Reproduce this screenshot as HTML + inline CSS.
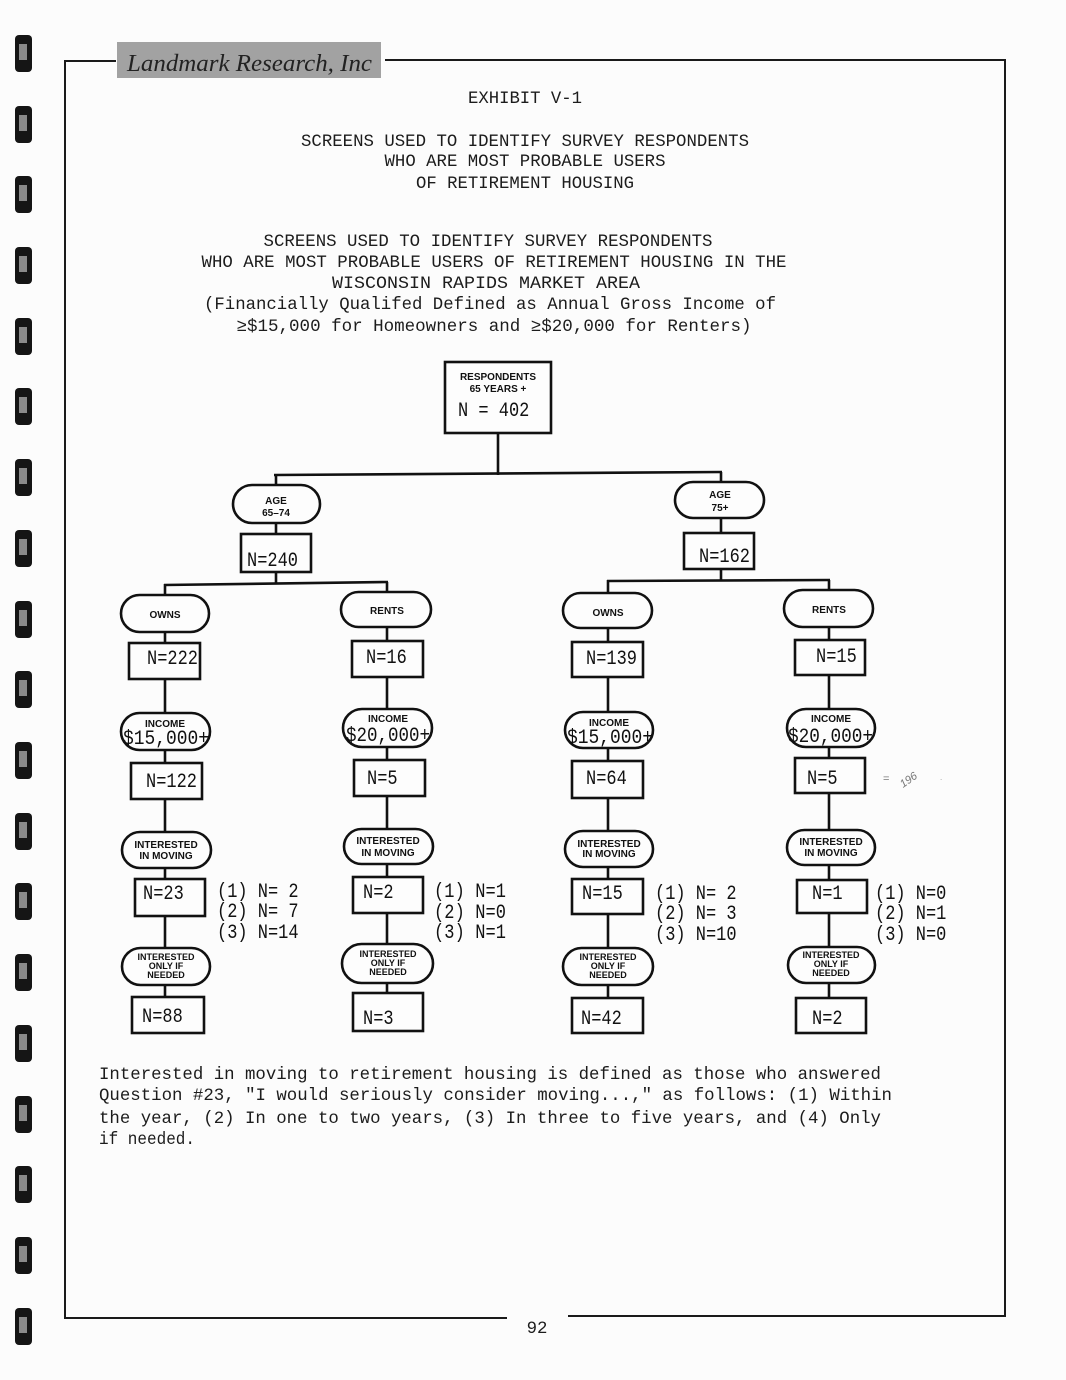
<!DOCTYPE html>
<html><head><meta charset="utf-8"><style>
html,body{margin:0;padding:0;background:#fcfcfc;}
svg{display:block;}
.m{font-family:"Liberation Mono","DejaVu Sans Mono",monospace;font-size:17.4px;fill:#1c1c1c;}
.n{font-family:"Liberation Mono","DejaVu Sans Mono",monospace;font-size:17px;fill:#111;}
.b{font-family:"Liberation Sans","DejaVu Sans",sans-serif;font-weight:bold;font-size:10px;fill:#111;text-anchor:middle;}
.s{font-family:"Liberation Sans","DejaVu Sans",sans-serif;font-weight:bold;font-size:9px;fill:#111;text-anchor:middle;}
.c{text-anchor:middle;}
</style></head><body>
<svg width="1066" height="1380" viewBox="0 0 1066 1380" xmlns="http://www.w3.org/2000/svg">
<rect width="1066" height="1380" fill="#fcfcfc"/>
<!-- binding marks -->
<g fill="#151515">
<rect x="15" y="35" width="17" height="37" rx="4"/><rect x="15" y="106" width="17" height="37" rx="4"/>
<rect x="15" y="176" width="17" height="37" rx="4"/><rect x="15" y="247" width="17" height="37" rx="4"/>
<rect x="15" y="318" width="17" height="37" rx="4"/><rect x="15" y="388" width="17" height="37" rx="4"/>
<rect x="15" y="459" width="17" height="37" rx="4"/><rect x="15" y="530" width="17" height="37" rx="4"/>
<rect x="15" y="601" width="17" height="37" rx="4"/><rect x="15" y="671" width="17" height="37" rx="4"/>
<rect x="15" y="742" width="17" height="37" rx="4"/><rect x="15" y="813" width="17" height="37" rx="4"/>
<rect x="15" y="883" width="17" height="37" rx="4"/><rect x="15" y="954" width="17" height="37" rx="4"/>
<rect x="15" y="1025" width="17" height="37" rx="4"/><rect x="15" y="1096" width="17" height="37" rx="4"/>
<rect x="15" y="1166" width="17" height="37" rx="4"/><rect x="15" y="1237" width="17" height="37" rx="4"/>
<rect x="15" y="1308" width="17" height="37" rx="4"/>
</g>
<g fill="#8a8a8a">
<rect x="19" y="44" width="8" height="16"/><rect x="19" y="115" width="8" height="16"/>
<rect x="19" y="185" width="8" height="16"/><rect x="19" y="256" width="8" height="16"/>
<rect x="19" y="327" width="8" height="16"/><rect x="19" y="397" width="8" height="16"/>
<rect x="19" y="468" width="8" height="16"/><rect x="19" y="539" width="8" height="16"/>
<rect x="19" y="610" width="8" height="16"/><rect x="19" y="680" width="8" height="16"/>
<rect x="19" y="751" width="8" height="16"/><rect x="19" y="822" width="8" height="16"/>
<rect x="19" y="892" width="8" height="16"/><rect x="19" y="963" width="8" height="16"/>
<rect x="19" y="1034" width="8" height="16"/><rect x="19" y="1105" width="8" height="16"/>
<rect x="19" y="1175" width="8" height="16"/><rect x="19" y="1246" width="8" height="16"/>
<rect x="19" y="1317" width="8" height="16"/>
</g>
<!-- frame -->
<g stroke="#1a1a1a" stroke-width="2" fill="none">
<line x1="65" y1="61" x2="116" y2="61"/>
<line x1="385" y1="60" x2="1006" y2="60"/>
<line x1="65" y1="60" x2="65" y2="1319"/>
<line x1="1005" y1="59" x2="1005" y2="1317"/>
<line x1="65" y1="1318" x2="507" y2="1318"/>
<line x1="568" y1="1316" x2="1006" y2="1316"/>
</g>
<!-- logo -->
<rect x="117" y="42" width="264" height="36" fill="#a2a2a2"/>
<text x="127" y="71" font-family="Liberation Serif, serif" font-style="italic" font-size="24" fill="#222" textLength="245" lengthAdjust="spacingAndGlyphs">Landmark Research, Inc</text>

<!-- header text -->
<text class="m c" x="525" y="103" textLength="114" lengthAdjust="spacingAndGlyphs">EXHIBIT V-1</text>
<text class="m c" x="525" y="146" textLength="448" lengthAdjust="spacingAndGlyphs">SCREENS USED TO IDENTIFY SURVEY RESPONDENTS</text>
<text class="m c" x="525" y="166" textLength="281" lengthAdjust="spacingAndGlyphs">WHO ARE MOST PROBABLE USERS</text>
<text class="m c" x="525" y="188" textLength="218" lengthAdjust="spacingAndGlyphs">OF RETIREMENT HOUSING</text>

<text class="m c" x="488" y="246" textLength="449" lengthAdjust="spacingAndGlyphs">SCREENS USED TO IDENTIFY SURVEY RESPONDENTS</text>
<text class="m c" x="494" y="267" textLength="585" lengthAdjust="spacingAndGlyphs">WHO ARE MOST PROBABLE USERS OF RETIREMENT HOUSING IN THE</text>
<text class="m c" x="486" y="288" textLength="308" lengthAdjust="spacingAndGlyphs">WISCONSIN RAPIDS MARKET AREA</text>
<text class="m c" x="490" y="309" textLength="572" lengthAdjust="spacingAndGlyphs">(Financially Qualifed Defined as Annual Gross Income of</text>
<text class="m c" x="494" y="331" textLength="515" lengthAdjust="spacingAndGlyphs">≥$15,000 for Homeowners and ≥$20,000 for Renters)</text>

<!-- connectors -->
<g stroke="#111" stroke-width="2.6" fill="none">
<line x1="498" y1="433" x2="498" y2="475"/>
<line x1="274" y1="475" x2="722" y2="472"/>
<line x1="276" y1="474" x2="276" y2="486"/>
<line x1="721" y1="472" x2="721" y2="483"/>
<line x1="276" y1="522" x2="276" y2="535"/>
<line x1="721" y1="517" x2="721" y2="534"/>
<line x1="276" y1="571" x2="276" y2="584"/>
<line x1="721" y1="568" x2="721" y2="581"/>
<line x1="164" y1="585" x2="388" y2="582"/>
<line x1="607" y1="581" x2="830" y2="580"/>
<line x1="165" y1="584" x2="165" y2="998"/>
<line x1="387" y1="582" x2="387" y2="994"/>
<line x1="608" y1="580" x2="608" y2="999"/>
<line x1="829" y1="580" x2="829" y2="999"/>
</g>

<!-- nodes -->
<g fill="#fdfdfd" stroke="#111" stroke-width="2.6">
<rect x="445" y="362" width="106" height="71"/>
<rect x="233" y="485" width="87" height="38" rx="19"/>
<rect x="241" y="534" width="70" height="38"/>
<rect x="675" y="482" width="89" height="36" rx="18"/>
<rect x="684" y="533" width="70" height="36"/>
<!-- col1 -->
<rect x="121" y="595" width="88" height="37" rx="18.5"/>
<rect x="129" y="643" width="71" height="36"/>
<rect x="121" y="713" width="89" height="37" rx="18.5"/>
<rect x="131" y="763" width="71" height="36"/>
<rect x="122" y="832" width="89" height="36" rx="18"/>
<rect x="135" y="879" width="70" height="37"/>
<rect x="122" y="948" width="88" height="37" rx="18.5"/>
<rect x="132" y="997" width="72" height="36"/>
<!-- col2 -->
<rect x="341" y="592" width="90" height="35" rx="17.5"/>
<rect x="352" y="641" width="71" height="36"/>
<rect x="343" y="709" width="89" height="38" rx="19"/>
<rect x="354" y="760" width="71" height="36"/>
<rect x="344" y="829" width="89" height="35" rx="17.5"/>
<rect x="353" y="877" width="70" height="36"/>
<rect x="342" y="944" width="91" height="39" rx="19.5"/>
<rect x="353" y="993" width="70" height="38"/>
<!-- col3 -->
<rect x="563" y="593" width="89" height="35" rx="17.5"/>
<rect x="572" y="642" width="71" height="35"/>
<rect x="565" y="712" width="88" height="36" rx="18"/>
<rect x="572" y="761" width="71" height="37"/>
<rect x="565" y="831" width="88" height="36" rx="18"/>
<rect x="572" y="879" width="71" height="35"/>
<rect x="563" y="948" width="90" height="37" rx="18.5"/>
<rect x="572" y="998" width="71" height="35"/>
<!-- col4 -->
<rect x="784" y="590" width="89" height="37" rx="18.5"/>
<rect x="795" y="640" width="70" height="35"/>
<rect x="787" y="709" width="88" height="38" rx="19"/>
<rect x="795" y="758" width="70" height="35"/>
<rect x="787" y="830" width="88" height="35" rx="17.5"/>
<rect x="797" y="880" width="70" height="33"/>
<rect x="788" y="947" width="87" height="36" rx="18"/>
<rect x="796" y="998" width="70" height="35"/>
</g>

<!-- node labels -->
<text class="b" x="498" y="380">RESPONDENTS</text>
<text class="b" x="498" y="392" font-size="9">65 YEARS +</text>
<text class="n" transform="translate(458,416) scale(1,1.2)" xml:space="preserve">N = 402</text>

<text class="b" x="276" y="504">AGE</text>
<text class="b" x="276" y="516" font-size="9">65–74</text>
<text class="n" transform="translate(247,566) scale(1,1.2)">N=240</text>
<text class="b" x="720" y="498">AGE</text>
<text class="b" x="720" y="511" font-size="9">75+</text>
<text class="n" transform="translate(699,562) scale(1,1.2)">N=162</text>

<!-- col1 labels -->
<text class="b" x="165" y="618">OWNS</text>
<text class="n" transform="translate(147,664) scale(1,1.2)">N=222</text>
<text class="b" x="165" y="727">INCOME</text>
<text class="n" transform="translate(123,744) scale(1,1.2)" textLength="86" lengthAdjust="spacingAndGlyphs">$15,000+</text>
<text class="n" transform="translate(146,787) scale(1,1.2)">N=122</text>
<text class="b" x="166" y="848">INTERESTED</text>
<text class="b" x="166" y="859">IN MOVING</text>
<text class="n" transform="translate(143,899) scale(1,1.2)">N=23</text>
<text class="s" x="166" y="960">INTERESTED</text>
<text class="s" x="166" y="969">ONLY IF</text>
<text class="s" x="166" y="978">NEEDED</text>
<text class="n" transform="translate(142,1022) scale(1,1.2)">N=88</text>

<!-- col2 labels -->
<text class="b" x="387" y="614">RENTS</text>
<text class="n" transform="translate(366,663) scale(1,1.2)">N=16</text>
<text class="b" x="388" y="722">INCOME</text>
<text class="n" transform="translate(346,741) scale(1,1.2)" textLength="84" lengthAdjust="spacingAndGlyphs">$20,000+</text>
<text class="n" transform="translate(367,784) scale(1,1.2)">N=5</text>
<text class="b" x="388" y="844">INTERESTED</text>
<text class="b" x="388" y="856">IN MOVING</text>
<text class="n" transform="translate(363,898) scale(1,1.2)">N=2</text>
<text class="s" x="388" y="957">INTERESTED</text>
<text class="s" x="388" y="966">ONLY IF</text>
<text class="s" x="388" y="975">NEEDED</text>
<text class="n" transform="translate(363,1024) scale(1,1.2)">N=3</text>

<!-- col3 labels -->
<text class="b" x="608" y="616">OWNS</text>
<text class="n" transform="translate(586,664) scale(1,1.2)">N=139</text>
<text class="b" x="609" y="726">INCOME</text>
<text class="n" transform="translate(567,743) scale(1,1.2)" textLength="86" lengthAdjust="spacingAndGlyphs">$15,000+</text>
<text class="n" transform="translate(586,784) scale(1,1.2)">N=64</text>
<text class="b" x="609" y="847">INTERESTED</text>
<text class="b" x="609" y="857">IN MOVING</text>
<text class="n" transform="translate(582,899) scale(1,1.2)">N=15</text>
<text class="s" x="608" y="960">INTERESTED</text>
<text class="s" x="608" y="969">ONLY IF</text>
<text class="s" x="608" y="978">NEEDED</text>
<text class="n" transform="translate(581,1024) scale(1,1.2)">N=42</text>

<!-- col4 labels -->
<text class="b" x="829" y="613">RENTS</text>
<text class="n" transform="translate(816,662) scale(1,1.2)">N=15</text>
<text class="b" x="831" y="722">INCOME</text>
<text class="n" transform="translate(788,742) scale(1,1.2)" textLength="85" lengthAdjust="spacingAndGlyphs">$20,000+</text>
<text class="n" transform="translate(807,784) scale(1,1.2)">N=5</text>
<text class="b" x="831" y="845">INTERESTED</text>
<text class="b" x="831" y="856">IN MOVING</text>
<text class="n" transform="translate(812,899) scale(1,1.2)">N=1</text>
<text class="s" x="831" y="958">INTERESTED</text>
<text class="s" x="831" y="967">ONLY IF</text>
<text class="s" x="831" y="976">NEEDED</text>
<text class="n" transform="translate(812,1024) scale(1,1.2)">N=2</text>

<!-- side counts -->
<text class="n" transform="translate(217,897) scale(1,1.2)">(1) N= 2</text>
<text class="n" transform="translate(217,917) scale(1,1.2)">(2) N= 7</text>
<text class="n" transform="translate(217,938) scale(1,1.2)">(3) N=14</text>
<text class="n" transform="translate(434,897) scale(1,1.2)" textLength="72" lengthAdjust="spacing">(1) N=1</text>
<text class="n" transform="translate(434,918) scale(1,1.2)" textLength="72" lengthAdjust="spacing">(2) N=0</text>
<text class="n" transform="translate(434,938) scale(1,1.2)" textLength="72" lengthAdjust="spacing">(3) N=1</text>
<text class="n" transform="translate(655,899) scale(1,1.2)">(1) N= 2</text>
<text class="n" transform="translate(655,919) scale(1,1.2)">(2) N= 3</text>
<text class="n" transform="translate(655,940) scale(1,1.2)">(3) N=10</text>
<text class="n" transform="translate(875,899) scale(1,1.2)">(1) N=0</text>
<text class="n" transform="translate(875,919) scale(1,1.2)">(2) N=1</text>
<text class="n" transform="translate(875,940) scale(1,1.2)">(3) N=0</text>

<!-- handwritten note -->
<text x="883" y="782" font-family="Liberation Sans, sans-serif" font-size="11" fill="#777">=</text>
<text transform="translate(903,788) rotate(-35)" font-family="Liberation Sans, sans-serif" font-style="italic" font-size="11" fill="#777">196</text>
<text x="940" y="780" font-family="Liberation Sans, sans-serif" font-size="8" fill="#999">.</text>

<!-- footnote -->
<text class="m" x="99" y="1079" textLength="782" lengthAdjust="spacingAndGlyphs">Interested in moving to retirement housing is defined as those who answered</text>
<text class="m" x="99" y="1100" textLength="793" lengthAdjust="spacingAndGlyphs">Question #23, "I would seriously consider moving...," as follows: (1) Within</text>
<text class="m" x="99" y="1123" textLength="782" lengthAdjust="spacingAndGlyphs">the year, (2) In one to two years, (3) In three to five years, and (4) Only</text>
<text class="m" x="99" y="1144" textLength="96" lengthAdjust="spacingAndGlyphs">if needed.</text>

<!-- page number -->
<text class="m c" x="537" y="1333">92</text>
</svg>
</body></html>
